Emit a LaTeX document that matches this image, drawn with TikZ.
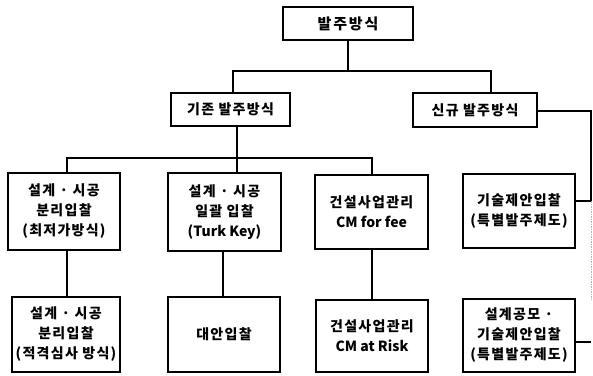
\documentclass[tikz,border=0pt]{standalone}
\usepackage{fontspec}
\newfontfamily\kr{Noto Sans CJK KR}[LetterSpace=9]
\newcommand{\lat}[1]{{\addfontfeature{LetterSpace=0}#1}}
\begin{document}
\begin{tikzpicture}[x=1pt,y=-1pt,
  box/.style={draw, line width=1.4pt, rectangle, inner sep=0pt, align=center,
    font=\kr\bfseries\fontsize{14}{20}\selectfont},
  conn/.style={line width=2.2pt},
  faint/.style={line width=0.8pt, gray!60, dash pattern=on 1.5pt off 1pt}]
\useasboundingbox[fill=white] (0,0) rectangle (593,375);
% level 0-1
\node[box, minimum width=130pt, minimum height=33pt, font=\kr\bfseries\fontsize{15}{18}\selectfont\addfontfeature{LetterSpace=12}] (top) at (348,23.5) {발주방식};
\node[box, minimum width=119pt, minimum height=33pt] (gi) at (230.5,109.5) {기존 발주방식};
\node[box, minimum width=124pt, minimum height=34pt] (sin) at (475,110) {신규 발주방식};
% level 2
\node[box, minimum width=112pt, minimum height=77pt] (b1) at (64,211.5) {설계 · 시공\\분리입찰\\(최저가방식)};
\node[box, minimum width=113pt, minimum height=78pt] (b2) at (224.5,212) {설계 · 시공\\일괄 입찰\\\lat{(Turk Key)}};
\node[box, minimum width=113pt, minimum height=74pt] (b3) at (371.5,212) {건설사업관리\\\lat{CM for fee}};
\node[box, minimum width=112pt, minimum height=74pt] (b4) at (519,211) {기술제안입찰\\(특별발주제도)};
% level 3
\node[box, minimum width=108pt, minimum height=75pt] (b5) at (66,334.5) {설계 · 시공\\분리입찰\\(적격심사 방식)};
\node[box, minimum width=112pt, minimum height=75pt] (b6) at (224,334.5) {대안입찰};
\node[box, minimum width=112pt, minimum height=72pt] (b7) at (372,336) {건설사업관리\\\lat{CM at Risk}};
\node[box, minimum width=112pt, minimum height=73pt] (b8) at (519,335.5) {설계공모 ·\\기술제안입찰\\(특별발주제도)};
% junction coordinates
\coordinate (h1L) at (233,71);
\coordinate (h1R) at (491,71);
\coordinate (h2L) at (67,158);
\coordinate (h2M) at (237,158);
\coordinate (h2R) at (372,158);
\coordinate (v6) at (223,0);
\coordinate (rt) at (591,111);
\coordinate (r4) at (591,201);
\coordinate (r9) at (591,300);
\coordinate (r8) at (591,342);
% connectors
\draw[conn] (top.south) -- (top.south |- h1L);
\draw[conn] (h1L |- gi.north) -- (h1L) -- (h1R) -- (h1R |- sin.north);
\draw[conn] (h2M |- gi.south) -- (h2M |- b2.north);
\draw[conn] (h2L |- b1.north) -- (h2L) -- (h2R) -- (h2R |- b3.north);
\draw[conn] (h2L |- b1.south) -- (h2L |- b5.north);
\draw[conn] (v6 |- b2.south) -- (v6 |- b6.north);
\draw[conn] (h2R |- b3.south) -- (h2R |- b7.north);
\draw[conn] (sin.east |- rt) -- (rt) -- (r4);
\draw[conn] (b4.east |- r4) -- (r4);
\draw[faint] (r4) -- (r9);
\draw[conn] (b8.east |- r8) -- (r8);
\end{tikzpicture}
\end{document}
